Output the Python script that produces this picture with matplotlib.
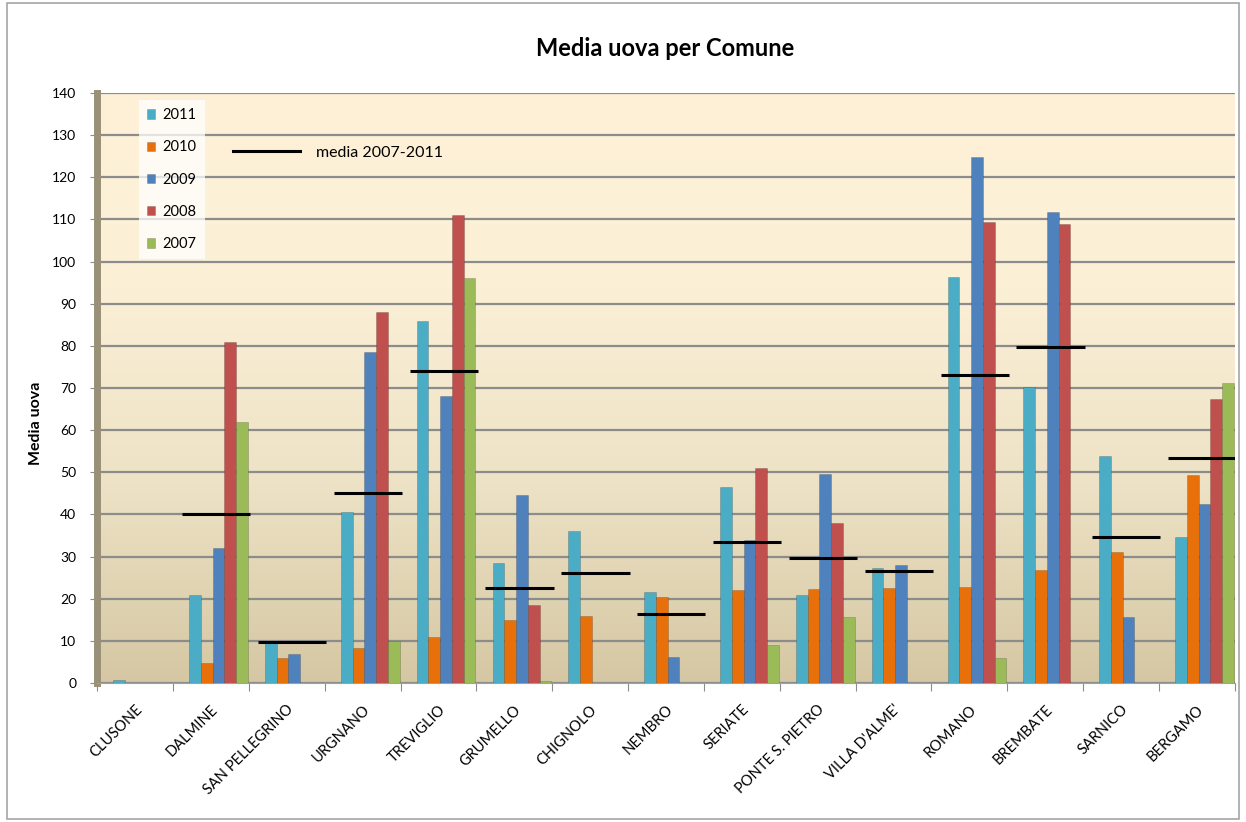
import numpy as np
import matplotlib
matplotlib.use("Agg")
import matplotlib.pyplot as plt
from matplotlib.patches import Rectangle
from matplotlib.lines import Line2D
from matplotlib.colors import LinearSegmentedColormap

plt.rcParams['font.family'] = ['Lato', 'DejaVu Sans']

comuni = ["CLUSONE", "DALMINE", "SAN PELLEGRINO", "URGNANO", "TREVIGLIO", "GRUMELLO",
          "CHIGNOLO", "NEMBRO", "SERIATE", "PONTE S. PIETRO", "VILLA D'ALME'", "ROMANO",
          "BREMBATE", "SARNICO", "BERGAMO"]
v2011 = [0.8, 20.9, 10, 40.5, 86, 28.5, 36, 21.5, 46.5, 21, 27.3, 96.3, 70.2, 53.9, 34.6]
v2010 = [0, 4.7, 6, 8.3, 11, 15, 16, 20.4, 22, 22.3, 22.5, 22.8, 26.8, 31, 49.4]
v2009 = [0, 32, 7, 78.5, 68, 44.5, 0, 6.2, 34, 49.6, 28, 124.8, 111.8, 15.7, 42.4]
v2008 = [0, 81, 0, 88, 111, 18.5, 0, 0, 51, 38, 0, 109.4, 109, 0, 67.4]
v2007 = [0, 62, 0, 10, 96, 0.5, 0, 0, 9, 15.6, 0, 6, 0, 0, 71.2]
media = [0, 40, 9.7, 45, 74, 22.5, 26, 16.4, 33.5, 29.6, 26.5, 73, 79.7, 34.6, 53.4]

series_labels = ["2011", "2010", "2009", "2008", "2007"]
series_values = [v2011, v2010, v2009, v2008, v2007]
colors = ["#4BACC6", "#E8700A", "#4F81BD", "#C0504D", "#9BBB59"]
yticks = list(range(0, 141, 10))

fig = plt.figure(figsize=(12.46, 8.22), dpi=100)
fig.patch.set_facecolor("white")
fig.add_artist(Rectangle((0.006, 0.004), 0.988, 0.992, transform=fig.transFigure,
                         fill=False, edgecolor="#A6A6A6", linewidth=1.2))

ax = fig.add_axes([0.078, 0.169, 0.913, 0.718])
x = np.arange(len(comuni))
ax.set_xlim(-0.5, len(comuni) - 0.5)
ax.set_ylim(0, 140)

# gradient background
cmap = LinearSegmentedColormap.from_list("bg", ["#D5C7A3", "#EDE2C5", "#FBF0D6", "#FEF1D7"])
grad = np.linspace(0, 1, 256).reshape(-1, 1)
ax.imshow(grad, cmap=cmap, aspect="auto", extent=(-0.5, len(comuni) - 0.5, 0, 140),
          origin="lower", zorder=0)

ax.set_yticks(yticks)
ax.yaxis.grid(True, color="#8C8C8C", linewidth=1.6, zorder=1)
ax.set_axisbelow(True)

w = 0.155
offsets = [-0.31, -0.155, 0, 0.155, 0.31]
for vals, off, c, lab in zip(series_values, offsets, colors, series_labels):
    ax.bar(x + off + 0.1, vals, width=w, color=c, edgecolor="#00000030", linewidth=0.6,
           label=lab, zorder=3)

for xi, m in zip(x, media):
    if m > 0:
        ax.hlines(m, xi - 0.38, xi + 0.52, color="black", linewidth=2.2, zorder=4)

# ticks at group boundaries
ax.set_xticks(np.arange(len(comuni) + 1) - 0.5, minor=False)
ax.set_xticklabels([])
ax.set_xticks(x, minor=True)
ax.set_xticklabels(comuni, minor=True, rotation=45, ha="right", va="top",
                   rotation_mode="anchor", fontsize=10.5)
ax.tick_params(axis="x", which="minor", length=0, pad=14)
ax.tick_params(axis="x", which="major", length=6, color="#8C8C8C")
ax.tick_params(axis="y", length=5, color="#8C8C8C", labelsize=10, pad=10)

for s in ["top", "right"]:
    ax.spines[s].set_visible(False)
ax.spines["left"].set_color("#9A9078")
ax.spines["left"].set_linewidth(5)
ax.spines["bottom"].set_color("#A0A0A0")

ax.set_ylabel("Media uova", fontsize=11.5, fontweight="bold")
ax.yaxis.set_label_coords(-0.048, 0.44)
fig.text(0.534, 0.941, "Media uova per Comune", ha="center", va="center",
         fontsize=17, fontweight="bold")

leg = ax.legend(loc="upper left", bbox_to_anchor=(0.03, 1.0), frameon=True,
                fontsize=10.5, handlelength=0.6, handleheight=0.6, labelspacing=1.25,
                borderpad=0.55, handletextpad=0.5, fancybox=False)
leg.get_frame().set_facecolor("white")
leg.get_frame().set_alpha(0.75)
leg.get_frame().set_edgecolor("none")
ax.add_artist(leg)

line_h = Line2D([0], [0], color="black", linewidth=2.2)
leg2 = ax.legend([line_h], ["media 2007-2011"], loc="upper left",
                 bbox_to_anchor=(0.107, 0.935), frameon=False, fontsize=11.5,
                 handlelength=4.2, handletextpad=1.0)

fig.savefig("out.png", dpi=100)
